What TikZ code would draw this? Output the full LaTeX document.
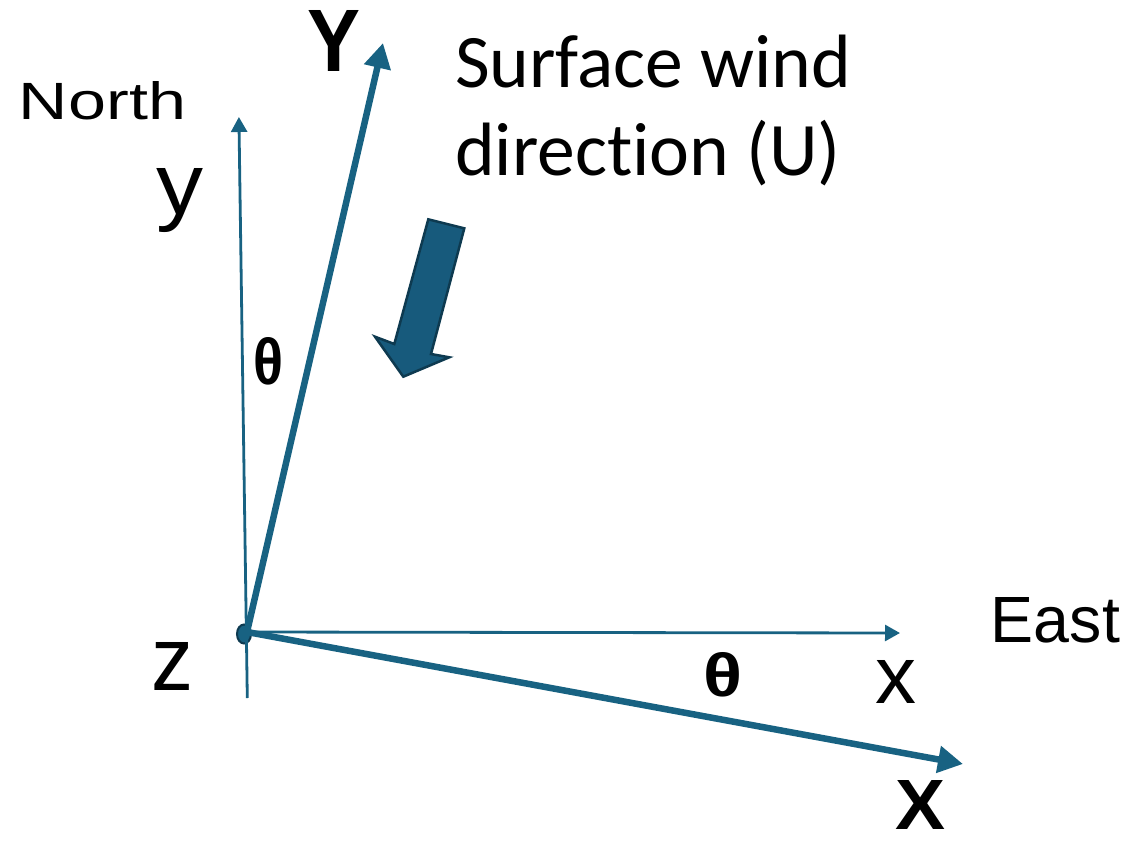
\documentclass[tikz,border=0pt]{standalone}
\usepackage{fontspec}
\usepackage{graphicx}
\setmainfont{Carlito}[Ligatures=NoCommon]
\newfontfamily\arialf{Liberation Sans}
\usetikzlibrary{arrows.meta}
\definecolor{axis}{HTML}{186282}
\definecolor{arrowfill}{HTML}{175A7C}
\definecolor{arrowedge}{HTML}{0E3A50}
\newcommand{\fitt}[3]{\resizebox{#1pt}{#2pt}{#3}}
\tikzset{
  thinaxis/.style={draw=axis, line width=2.8pt, -{Triangle[length=15pt,width=16pt]}},
  thickaxis/.style={draw=axis, line width=6.5pt, -{Triangle[length=25pt,width=26pt]}},
  lbl/.style={inner sep=0pt, anchor=base, text=black},
}
\begin{document}
\begin{tikzpicture}[x=1pt,y=-1pt]
\useasboundingbox (0,0) rectangle (1128,844);
% origin marker
\draw[arrowedge, fill=axis, line width=2pt] (244,634) ellipse [x radius=7, y radius=9.5];
\coordinate (O) at (247,632);
\coordinate (Nbot) at (247.3,698);
\coordinate (Ntip) at (238.9,117);
\coordinate (Ytip) at (383,43);
\coordinate (Etip) at (900,633);
\coordinate (Xtip) at (963,764);
\draw[thinaxis] (Nbot) -- (Ntip);
\draw[thinaxis] (O) -- (Etip);
\draw[thickaxis] (O) -- (Ytip);
\draw[thickaxis] (O) -- (Xtip);
% wind arrow
\draw[fill=arrowfill, draw=arrowedge, line width=2.5pt, line join=miter]
  (428.3,219.3) -- (464.3,228.3) -- (431,354) -- (449.3,357.3) -- (403.3,376.7) -- (375,336.7) -- (394.3,344) -- cycle;
% labels
\node[lbl] (north) at (102.5,119) {\fitt{167}{38}{\arialf North}};
\node[lbl] (east) at (1055.5,642) {\fitt{129}{45}{\arialf East}};
\node[lbl] (ly) at (180,214) {\fitt{47}{46}{\arialf y}};
\node[lbl] (lz) at (172,690) {\fitt{42}{48}{\arialf z}};
\node[lbl] (lx) at (895.5,703) {\fitt{41}{43}{\arialf x}};
\node[lbl] (lY) at (334,71) {\fitt{53}{61}{\arialf\bfseries Y}};
\node[lbl] (lX) at (920,829) {\fitt{50}{49}{\arialf\bfseries X}};
\node[lbl] (th1) at (269,384) {\fitt{30}{47}{\arialf\bfseries θ}};
\node[lbl] (th2) at (723.5,696) {\fitt{39}{44}{\arialf\bfseries θ}};
\node[inner sep=0pt, anchor=base west, align=left, font=\fontsize{75.6}{88}\selectfont] (wind) at (455,175) {Surface wind\\direction (U)};
\end{tikzpicture}
\end{document}
